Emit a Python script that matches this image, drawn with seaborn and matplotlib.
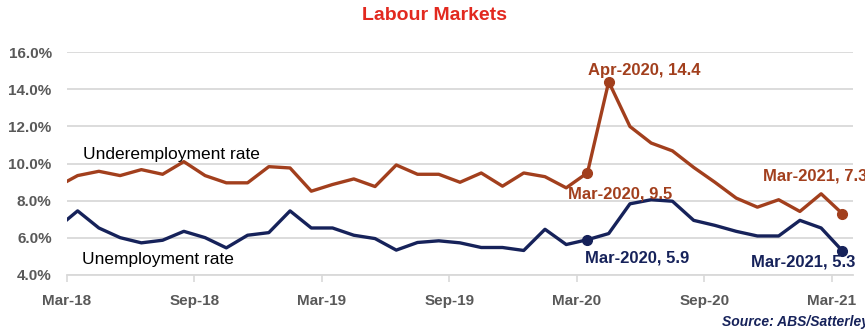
import numpy as np
import pandas as pd
import matplotlib
matplotlib.use("Agg")
import matplotlib.pyplot as plt
import seaborn as sns

# ---- data (monthly, Feb-18 .. Mar-21) ----
months = ["Feb-18", "Mar-18", "Apr-18", "May-18", "Jun-18", "Jul-18", "Aug-18", "Sep-18",
          "Oct-18", "Nov-18", "Dec-18", "Jan-19", "Feb-19", "Mar-19", "Apr-19", "May-19",
          "Jun-19", "Jul-19", "Aug-19", "Sep-19", "Oct-19", "Nov-19", "Dec-19", "Jan-20",
          "Feb-20", "Mar-20", "Apr-20", "May-20", "Jun-20", "Jul-20", "Aug-20", "Sep-20",
          "Oct-20", "Nov-20", "Dec-20", "Jan-21", "Feb-21", "Mar-21"]
unemployment = [6.5, 7.45, 6.53, 6.01, 5.73, 5.87, 6.35, 6.01, 5.46, 6.14, 6.28, 7.45,
                6.53, 6.53, 6.14, 5.96, 5.34, 5.75, 5.84, 5.73, 5.48, 5.48, 5.32, 6.46,
                5.64, 5.9, 6.23, 7.83, 8.05, 7.97, 6.94, 6.67, 6.35, 6.10, 6.10, 6.94,
                6.53, 5.3]
underemployment = [8.73, 9.35, 9.58, 9.35, 9.67, 9.42, 10.10, 9.35, 8.96, 8.96, 9.83, 9.76,
                   8.51, 8.87, 9.17, 8.76, 9.92, 9.42, 9.42, 8.99, 9.49, 8.78, 9.49, 9.29,
                   8.69, 9.5, 14.4, 11.99, 11.10, 10.68, 9.79, 8.99, 8.14, 7.65, 8.05, 7.42,
                   8.37, 7.3]
tick_labels = ["Mar-18", "Sep-18", "Mar-19", "Sep-19", "Mar-20", "Sep-20", "Mar-21"]
y_ticks = [4, 6, 8, 10, 12, 14, 16]

# highlighted points: (series, label month, data month, value)
highlights = [
    ("under", "Apr-2020", "Apr-20", 14.4),
    ("under", "Mar-2020", "Mar-20", 9.5),
    ("under", "Mar-2021", "Mar-21", 7.3),
    ("unemp", "Mar-2020", "Mar-20", 5.9),
    ("unemp", "Mar-2021", "Mar-21", 5.3),
]

BROWN = "#A23F1D"
NAVY = "#16225A"
GREY = "#595959"

# month index: Mar-18 tick at 0, data plotted mid-month
pos = np.arange(len(months)) - 0.5
df = pd.DataFrame({"pos": pos, "month": months,
                   "Unemployment": unemployment, "Underemployment": underemployment})

sns.set_theme(style="white")
plt.rcParams["font.family"] = ["Liberation Sans", "DejaVu Sans"]

fig = plt.figure(figsize=(8.65, 3.34), dpi=100)
ax = fig.add_axes([67 / 865, 1 - 275 / 334, (853 - 67) / 865, (275 - 52) / 334])

sns.lineplot(data=df, x="pos", y="Underemployment", ax=ax, color=BROWN, linewidth=2.4)
sns.lineplot(data=df, x="pos", y="Unemployment", ax=ax, color=NAVY, linewidth=2.4)

ax.set_xlim(0, 37)
ax.set_ylim(4, 16)
ax.set_yticks(y_ticks)
ax.set_yticklabels([f"{v:.1f}%" for v in y_ticks])
ax.set_xticks(np.arange(0, 37, 6))
ax.set_xticklabels(tick_labels)
ax.set_xlabel("")
ax.set_ylabel("")
ax.grid(axis="y", color="#D9D9D9", linewidth=1.3)
ax.set_axisbelow(True)
for s in ["left", "right", "top"]:
    ax.spines[s].set_visible(False)
ax.spines["bottom"].set_color("#D9D9D9")
ax.spines["bottom"].set_linewidth(1.3)
ax.tick_params(axis="x", which="both", bottom=True, length=5, width=1.2, color="#D9D9D9",
               pad=9, labelsize=11, labelcolor=GREY)
ax.tick_params(axis="y", length=0, pad=11, labelsize=11, labelcolor=GREY)
for lab in ax.get_xticklabels() + ax.get_yticklabels():
    lab.set_fontweight("bold")

# highlighted markers and labels
offsets = {
    ("under", "Apr-20"): (-15, 8),
    ("under", "Mar-20"): (-14, -15),
    ("under", "Mar-21"): (-57, 27),
    ("unemp", "Mar-20"): (-2, -13),
    ("unemp", "Mar-21"): (-66, -8),
}
for series, full, short, val in highlights:
    i = months.index(short)
    color = BROWN if series == "under" else NAVY
    ax.plot(pos[i], val, "o", color=color, markersize=7, zorder=5)
    dx, dy = offsets[(series, short)]
    ax.annotate(f"{full}, {val}", xy=(pos[i], val), xytext=(dx, dy),
                textcoords="offset points", ha="left", va="center", color=color,
                fontsize=12, fontweight="bold", annotation_clip=False)

ax.text(0.75, 10.5, "Underemployment rate", fontsize=12.5, color="black", va="center")
ax.text(0.7, 4.85, "Unemployment rate", fontsize=12.5, color="black", va="center")

fig.text(435 / 865, 1 - 16 / 334, "Labour Markets", ha="center", va="center",
         fontsize=14, fontweight="bold", color="#E2291F")
fig.text(722 / 865, 1 - 322 / 334, "Source: ABS/Satterley", ha="left", va="center",
         fontsize=10, fontweight="bold", fontstyle="italic", color=NAVY)

fig.savefig("out.png", dpi=100)
